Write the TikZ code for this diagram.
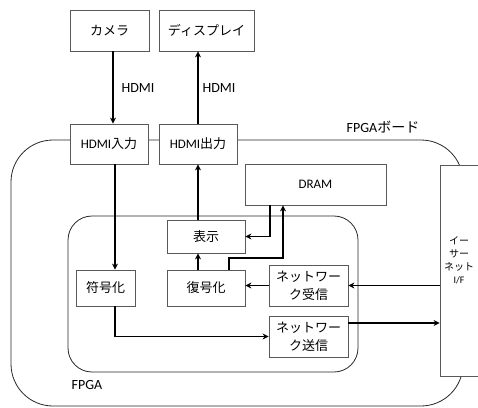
\documentclass[tikz,border=0pt]{standalone}
\usepackage{fontspec}
\setmainfont{Carlito}
\newfontfamily\jp{Noto Sans CJK JP}
\newcommand\J[1]{{\jp #1}}
\usetikzlibrary{arrows.meta}
\begin{document}
\begin{tikzpicture}[x=1pt,y=-1pt,
  box/.style={draw=black!65,line width=0.8pt,fill=white,inner sep=0pt,align=center,
    font=\fontsize{13}{18}\selectfont},
  cont/.style={draw=black!85,line width=0.8pt},
  arr/.style={draw=black,line width=1.3pt,-{Stealth[length=6pt,width=6pt]}},
  lbl/.style={font=\fontsize{14}{16}\selectfont,inner sep=0pt}]
\useasboundingbox (0,0) rectangle (478,407);
% containers
\draw[cont,rounded corners=42pt] (11,140) rectangle (463,406);
\draw[cont,rounded corners=24pt] (68,216) rectangle (358,372);
% nodes
\node[box,minimum width=79pt,minimum height=41pt] (cam) at (109.5,30.5) {\J{カメラ}};
\node[box,minimum width=95pt,minimum height=41pt] (disp) at (206.5,30.5) {\J{ディスプレイ}};
\node[box,minimum width=78pt,minimum height=40pt] (hin) at (109,144) {HDMI\J{入力}};
\node[box,minimum width=78pt,minimum height=40pt] (hout) at (198,144) {HDMI\J{出力}};
\node[box,minimum width=141pt,minimum height=41pt] (dram) at (315.5,184.5) {DRAM};
\node[box,minimum width=78pt,minimum height=33pt] (show) at (206,236.5) {\J{表示}};
\node[box,minimum width=59pt,minimum height=36pt] (enc) at (105.5,288) {\J{符号化}};
\node[box,minimum width=78pt,minimum height=36pt] (dec) at (206,288) {\J{復号化}};
\node[box,minimum width=79pt,minimum height=41pt] (rx) at (308.5,285.5) {\J{ネットワー}\\\J{ク受信}};
\node[box,minimum width=79pt,minimum height=41pt] (tx) at (308.5,336.5) {\J{ネットワー}\\\J{ク送信}};
\node[box,minimum width=60pt,minimum height=211pt] (ifc) at (470,270.5) {};
\node[align=center,inner sep=0pt,font=\fontsize{10}{13}\selectfont] (iftext) at (459,260) {\J{イー}\\\J{サー}\\\J{ネット}\\I/F};
% labels
\node[lbl] (l1) at (138,88) {HDMI};
\node[lbl] (l2) at (219,88) {HDMI};
\node[lbl] (l3) at (383,127) {FPGA\J{ボード}};
\node[lbl] (l4) at (87,385) {FPGA};
% connectors
\draw[arr] ([xshift=3.5pt]cam.south) -- ([xshift=4pt]hin.north);
\draw[arr] (hout.north) -- (hout.north |- disp.south);
\draw[arr] ([xshift=6pt]hin.south) -- ([xshift=9.5pt]enc.north);
\draw[arr] ([xshift=-8pt]show.north) -- (hout.south);
\draw[arr] ([xshift=-8pt]dec.north) -- ([xshift=-8pt]show.south);
\draw[arr] ([xshift=-45.5pt]dram.south) |- (show.east);
\coordinate (c7) at (283,258);
\draw[arr] ([xshift=23pt]dec.north) |- (c7) -- (c7 |- dram.south);
\draw[arr] (rx.west) -- (rx.west -| dec.east);
\draw[arr] (rx.east -| ifc.west) -- (rx.east);
\draw[arr] ([xshift=9.5pt]enc.south) |- (tx.west);
\coordinate (t1) at ([yshift=13.5pt]tx.east);
\draw[arr] (t1) -- (t1 -| ifc.west);
\end{tikzpicture}
\end{document}
